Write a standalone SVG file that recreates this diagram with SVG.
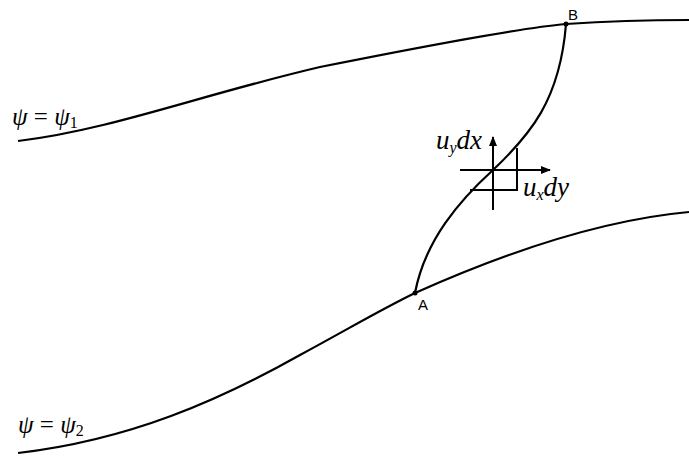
<svg xmlns="http://www.w3.org/2000/svg" width="689" height="457" viewBox="0 0 689 457">
<defs>
<style>
.ln{fill:none;stroke:#000;stroke-width:2.2}
.th{fill:none;stroke:#000;stroke-width:2}
.m{font-family:"Liberation Serif","Times New Roman",serif;font-style:italic;font-size:27px;fill:#000}
.g{font-family:"Liberation Serif","Times New Roman",serif;font-size:25px;fill:#000}
.s{font-family:"Liberation Sans",Arial,sans-serif;font-size:15px;fill:#000}
</style>
<marker id="ah" viewBox="0 0 10 10" refX="9" refY="5" markerWidth="10" markerHeight="10" markerUnits="userSpaceOnUse" orient="auto"><path d="M0,1 L10,5 L0,9 Z" fill="#000"/></marker>
</defs>
<rect width="689" height="457" fill="#fff"/>
<g id="connectors">
<path id="psi1" class="ln" d="M18,141 C110,130 200,95 320,67 C430,45 520,28 566,24 C610,21 650,20 689,20"/>
<path id="psi2" class="ln" d="M18,453 C130,440 220,400 300,355 C350,328 380,310 415,293 C500,255 600,220 689,212"/>
<path id="AB" class="ln" d="M415,293 C425,240 460,200 493,170 C530,135 560,100 566,24"/>
<path class="th" d="M493,210 L493,137" marker-end="url(#ah)"/>
<path class="th" d="M460,170 L550,170" marker-end="url(#ah)"/>
<path class="th" d="M470,190 L517,190 L517,148"/>
</g>
<g id="A"><circle cx="415" cy="293" r="2.5" fill="#000"/><text class="s" x="418" y="310">A</text></g>
<g id="B"><circle cx="566" cy="24" r="2.5" fill="#000"/><text class="s" x="568" y="20">B</text></g>
<g id="labels">
<text class="g" x="12" y="125"><tspan font-style="italic">ψ</tspan> = <tspan font-style="italic">ψ</tspan><tspan font-size="16" dy="3">1</tspan></text>
<text class="g" x="18" y="433"><tspan font-style="italic">ψ</tspan> = <tspan font-style="italic">ψ</tspan><tspan font-size="16" dy="3">2</tspan></text>
<text class="m" x="436" y="149">u<tspan font-size="16" dy="4">y</tspan><tspan dy="-4">dx</tspan></text>
<text class="m" x="523" y="196">u<tspan font-size="16" dy="4">x</tspan><tspan dy="-4">dy</tspan></text>
</g>
</svg>
